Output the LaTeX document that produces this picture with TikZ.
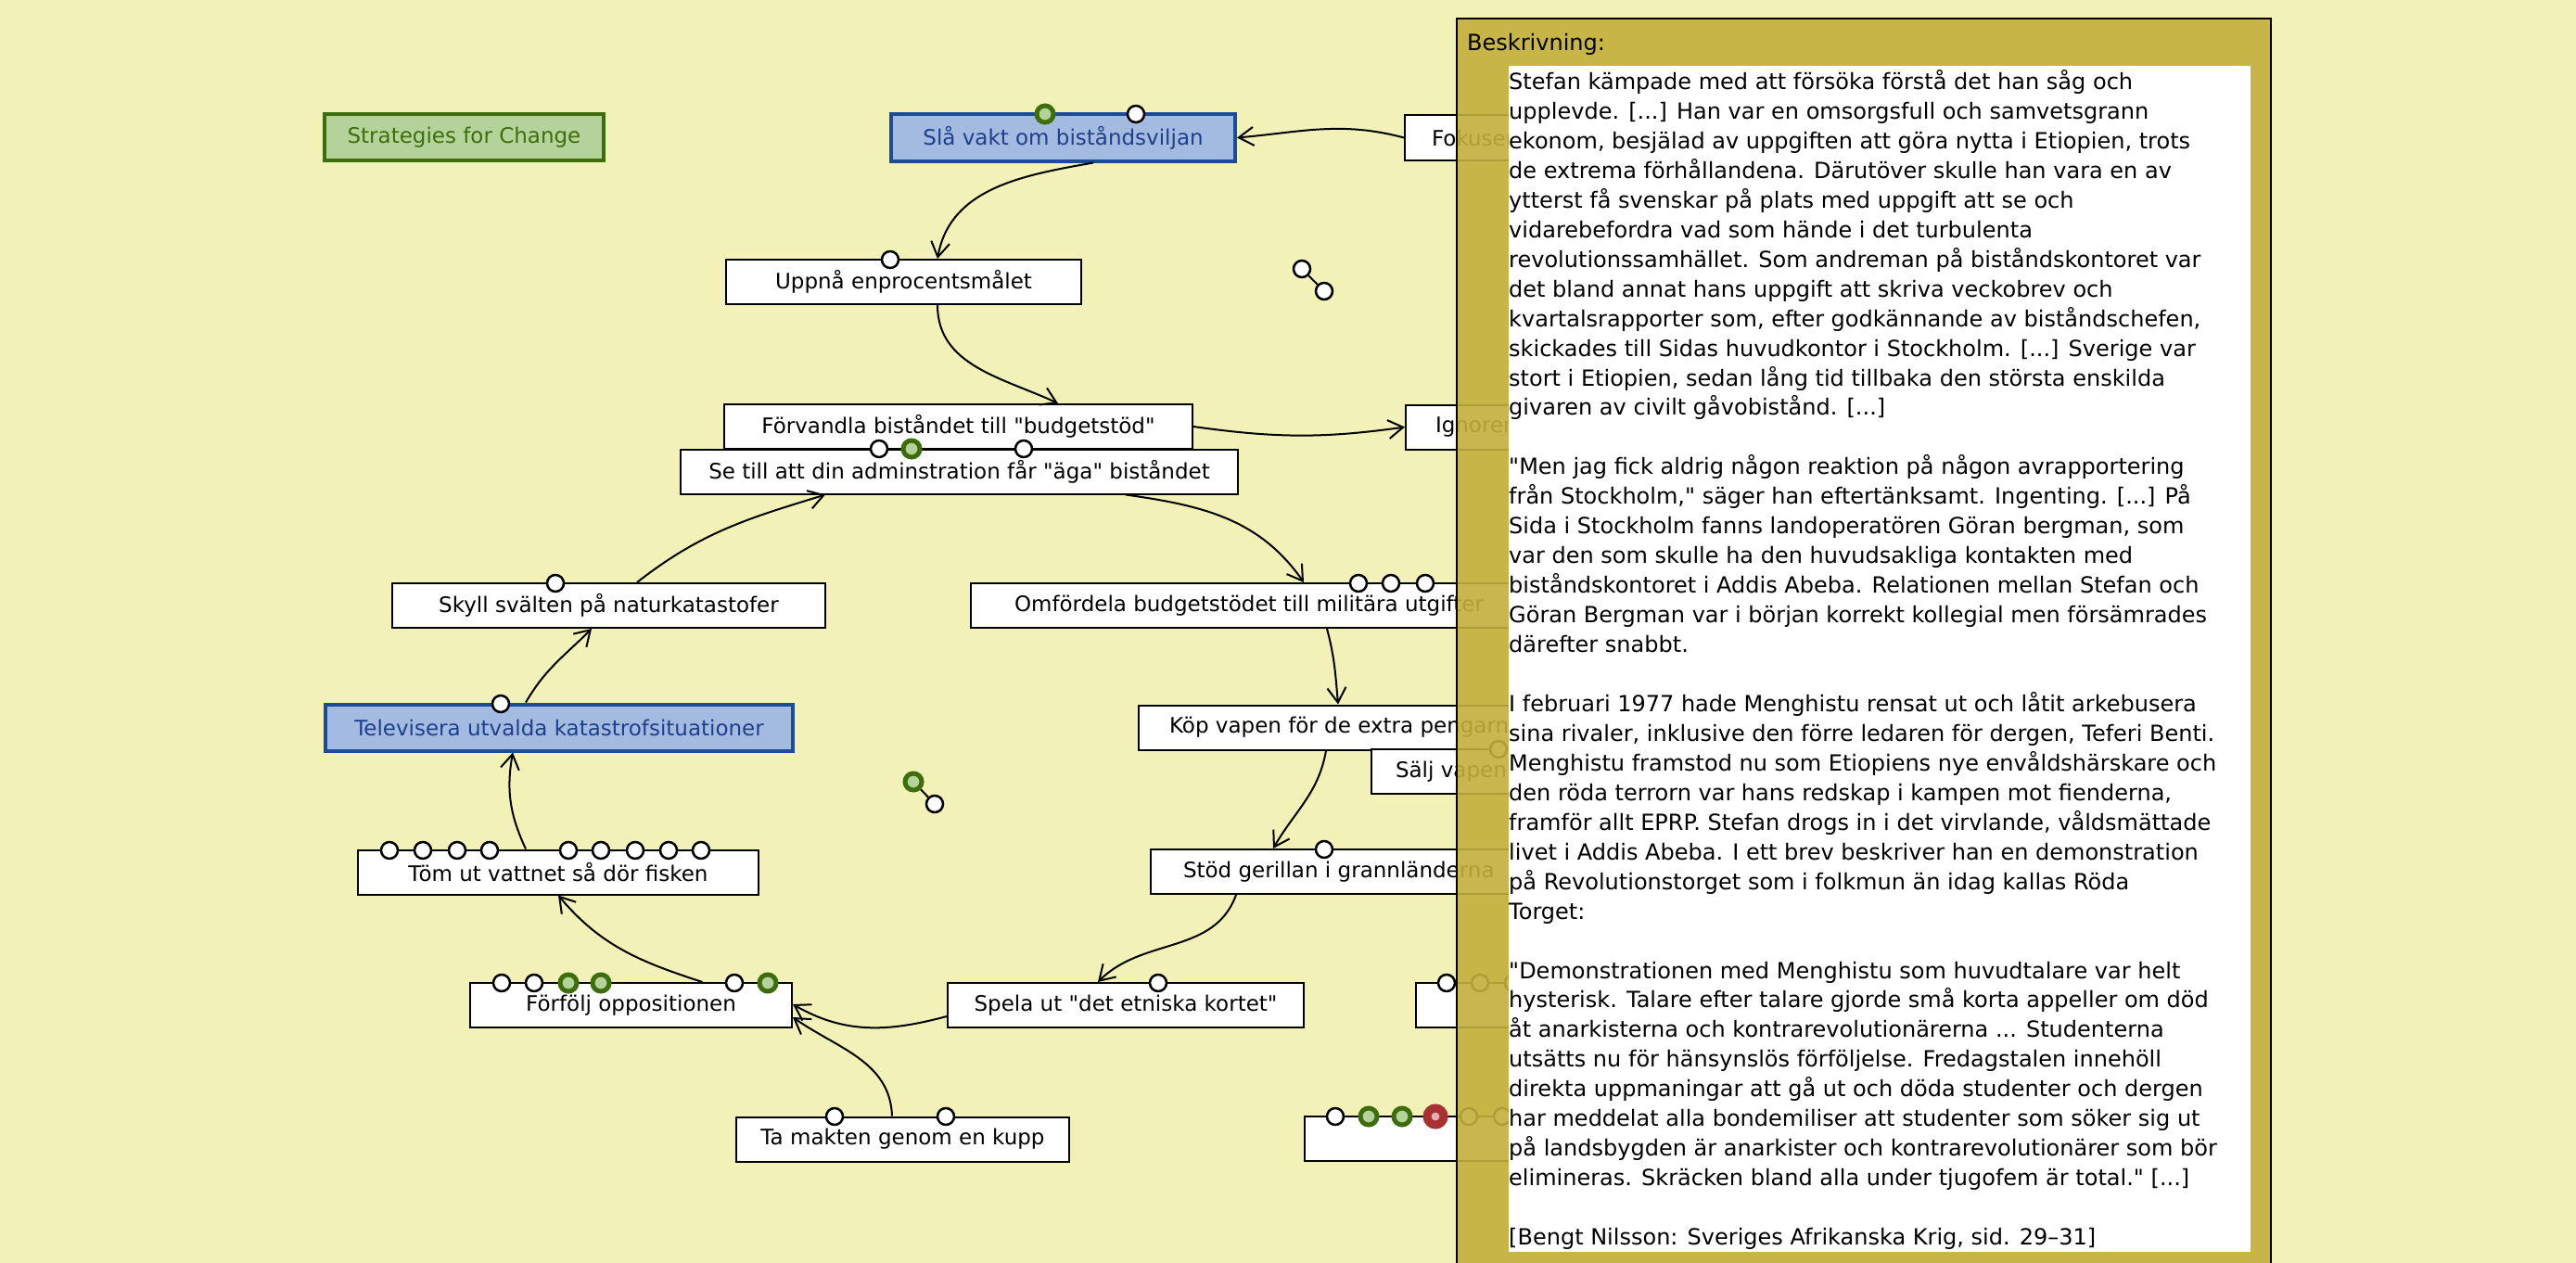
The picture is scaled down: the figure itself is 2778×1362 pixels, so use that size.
\documentclass[tikz,border=0pt]{standalone}
\usepackage{fontspec}
\setmainfont{DejaVu Sans}[Ligatures=TeXOff]
\usepackage{tikz}
\usetikzlibrary{arrows.meta,positioning,calc}
\definecolor{paper}{HTML}{F2F1B7}
\definecolor{notegold}{HTML}{C4AF3C}
\definecolor{goalfill}{HTML}{A3BBE0}
\definecolor{goalline}{HTML}{1C4B97}
\definecolor{goaltext}{HTML}{1F3F8C}
\definecolor{okfill}{HTML}{B4D39B}
\definecolor{okline}{HTML}{3E6E0B}
\definecolor{badline}{HTML}{A83232}
\definecolor{badfill}{HTML}{E4ADB0}
\newcommand{\boxfont}{\fontsize{23}{27}\selectfont}
\newcommand{\notefont}{\fontsize{24}{32}\selectfont}
\newcommand{\utel}{...}

\begin{document}
\begin{tikzpicture}[x=1pt,y=-1pt,
  every node/.style={font=\boxfont},
  box/.style={draw=black,line width=2pt,fill=white,minimum height=48pt,inner ysep=0pt},
  lbox/.style={box,anchor=west,inner xsep=#1},
  goal/.style={box,draw=goalline,fill=goalfill,text=goaltext,line width=4pt,minimum height=50pt},
  titel/.style={box,draw=okline,fill=okfill,text=okline,line width=4pt,minimum height=50pt},
  port/.style={circle,draw=black,fill=white,line width=2.5pt,minimum size=18pt,inner sep=0pt},
  portok/.style={port,draw=okline,fill=okfill,line width=5pt},
  portbad/.style={port,draw=badline,fill=badfill,line width=9pt},
  flow/.style={-{Straight Barb[length=16pt,width=20pt]},line width=2pt},
  link/.style={line width=2pt}]
  \fill[paper] (0,0) rectangle (2778,1362);
  \useasboundingbox (0,0) rectangle (2778,1362);

  \node[titel,minimum width=301pt] (strat) at (500.5,148) {Strategies for Change};
  \node[goal,minimum width=371pt] (vakt) at (1146.5,148.5) {Slå vakt om biståndsviljan};
  \node[lbox=29pt] (fokus) at (1514,148.5) {Fokusera};
  \node[box,minimum width=383pt] (upp) at (974.5,304) {Uppnå enprocentsmålet};
  \node[box,minimum width=505pt] (forv) at (1033.5,460) {Förvandla biståndet till "budgetstöd"};
  \node[box,minimum width=601pt] (setill) at (1034.5,508.5) {Se till att din adminstration får "äga" biståndet};
  \node[lbox=32pt] (ignor) at (1515,460.5) {Ignorera};
  \node[lbox=47pt] (omf) at (1046,653) {Omfördela budgetstödet till militära utgifter};
  \node[lbox=33pt] (kop) at (1227,784.5) {Köp vapen för de extra pengarna};
  \node[lbox=26pt] (salj) at (1478,832) {Sälj vapen};
  \node[lbox=35pt] (stod) at (1240,940) {Stöd gerillan i grannländerna};
  \node[box,minimum width=384pt] (spela) at (1214,1084) {Spela ut "det etniska kortet"};
  \node[box,anchor=west,minimum width=200pt] (skymd1) at (1526,1084) {};
  \node[box,minimum width=347pt] (forf) at (680.5,1084) {Förfölj oppositionen};
  \node[box,minimum width=359pt] (ta) at (973.5,1228.5) {Ta makten genom en kupp};
  \node[box,anchor=west,minimum width=300pt] (skymd2) at (1406,1228) {};
  \node[box,minimum width=432pt] (tom) at (602,940.5) {Töm ut vattnet så dör fisken};
  \node[goal,minimum width=504pt] (telev) at (603,784.5) {Televisera utvalda katastrofsituationer};
  \node[box,minimum width=467pt] (skyll) at (656.5,653) {Skyll svälten på naturkatastofer};

  \foreach \x/\s [count=\i] in {1127/portok,1225/port} \node[\s] (vakt-\i) at (\x,123) {};
  \node[port] (upp-1) at (960,280) {};
  \foreach \x/\s [count=\i] in {948/port,983/portok,1104/port} \node[\s] (setill-\i) at (\x,484) {};
  \foreach \x [count=\i] in {1465,1500,1537} \node[port] (omf-\i) at (\x,629) {};
  \node[port] (salj-1) at (1616,808) {};
  \node[port] (stod-1) at (1428,916) {};
  \node[port] (spela-1) at (1249,1060) {};
  \foreach \x [count=\i] in {1560,1596,1632} \node[port] (skymd1-\i) at (\x,1060) {};
  \foreach \x/\s [count=\i] in {1440/port,1476/portok,1512/portok,1548/portbad,1584/port,1620/port}
    \node[\s] (skymd2-\i) at (\x,1204) {};
  \foreach \x/\s [count=\i] in {541/port,576/port,613/portok,648/portok,792/port,828/portok}
    \node[\s] (forf-\i) at (\x,1060) {};
  \foreach \x [count=\i] in {900,1020} \node[port] (ta-\i) at (\x,1204) {};
  \foreach \x [count=\i] in {420,456,493,528,613,648,685,721,756} \node[port] (tom-\i) at (\x,917) {};
  \node[port] (telev-1) at (540,759) {};
  \node[port] (skyll-1) at (599,629) {};

  \node[port] (los1) at (1404,290) {};
  \node[port] (los2) at (1428,314) {};
  \draw[link] (los1) -- (los2);
  \node[portok] (los3) at (985,843) {};
  \node[port] (los4) at (1008,867) {};
  \draw[link] (los3) -- (los4);

  \draw[flow] (fokus.west) to[out=165,in=5] (vakt.east);
  \draw[flow] ([xshift=32.5pt]vakt.south) to[out=190,in=80] ([xshift=36.5pt]upp.north);
  \draw[flow] ([xshift=36.5pt]upp.south) to[out=-90,in=155] ([xshift=107.5pt]forv.north);
  \draw[flow] (forv.east) to[out=-8,in=188] (ignor.west);
  \draw[flow] ([xshift=179.5pt]setill.south) to[out=-8,in=125] ([xshift=360pt]omf.north west);
  \draw[flow] ([xshift=385pt]omf.south west) to[out=-75,in=95] ([xshift=216pt]kop.north west);
  \draw[flow] ([xshift=203pt]kop.south west) to[out=-100,in=60] ([xshift=133pt]stod.north west);
  \draw[flow] ([xshift=93pt]stod.south west) to[out=-110,in=45] ([xshift=-30pt]spela.north);
  \draw[flow] ([yshift=-12pt]spela.west) to[out=195,in=-30] ([yshift=1pt]forf.east);
  \draw[flow] ([xshift=-11.5pt]ta.north) to[out=92,in=-35] ([yshift=-13pt]forf.east);
  \draw[flow] ([xshift=77pt]forf.north) to[out=162,in=-50] ([xshift=0pt]tom.south);
  \draw[flow] ([xshift=-35pt]tom.north) to[out=115,in=-100] ([xshift=-50pt]telev.south);
  \draw[flow] ([xshift=-36pt]telev.north) to[out=60,in=-135] ([xshift=-18.5pt]skyll.south);
  \draw[flow] ([xshift=30.5pt]skyll.north) to[out=38,in=-163] ([xshift=-144.5pt]setill.south);

  \begin{scope}[every node/.style={font=\notefont,inner sep=0pt,anchor=base west}]
    \draw[fill=notegold,fill opacity=0.9,draw=black,line width=2pt] (1571,20) rectangle (2449,1364);
    \fill[white] (1627,71) rectangle (2427,1350);
    \node (rubrik) at (1582,55) {Beskrivning:};
    \foreach \t [count=\i] in {
      {Stefan kämpade med att försöka förstå det han såg och},
      {upplevde. [\utel] Han var en omsorgsfull och samvetsgrann},
      {ekonom, besjälad av uppgiften att göra nytta i Etiopien, trots},
      {de extrema förhållandena. Därutöver skulle han vara en av},
      {ytterst få svenskar på plats med uppgift att se och},
      {vidarebefordra vad som hände i det turbulenta},
      {revolutionssamhället. Som andreman på biståndskontoret var},
      {det bland annat hans uppgift att skriva veckobrev och},
      {kvartalsrapporter som, efter godkännande av biståndschefen,},
      {skickades till Sidas huvudkontor i Stockholm. [\utel] Sverige var},
      {stort i Etiopien, sedan lång tid tillbaka den största enskilda},
      {givaren av civilt gåvobistånd. [\utel]},
      {},
      {"Men jag fick aldrig någon reaktion på någon avrapportering},
      {från Stockholm," säger han eftertänksamt. Ingenting. [\utel] På},
      {Sida i Stockholm fanns landoperatören Göran bergman, som},
      {var den som skulle ha den huvudsakliga kontakten med},
      {biståndskontoret i Addis Abeba. Relationen mellan Stefan och},
      {Göran Bergman var i början korrekt kollegial men försämrades},
      {därefter snabbt.},
      {},
      {I februari 1977 hade Menghistu rensat ut och låtit arkebusera},
      {sina rivaler, inklusive den förre ledaren för dergen, Teferi Benti.},
      {Menghistu framstod nu som Etiopiens nye envåldshärskare och},
      {den röda terrorn var hans redskap i kampen mot fienderna,},
      {framför allt EPRP. Stefan drogs in i det virvlande, våldsmättade},
      {livet i Addis Abeba. I ett brev beskriver han en demonstration},
      {på Revolutionstorget som i folkmun än idag kallas Röda},
      {Torget:},
      {},
      {"Demonstrationen med Menghistu som huvudtalare var helt},
      {hysterisk. Talare efter talare gjorde små korta appeller om död},
      {åt anarkisterna och kontrarevolutionärerna \utel{} Studenterna},
      {utsätts nu för hänsynslös förföljelse. Fredagstalen innehöll},
      {direkta uppmaningar att gå ut och döda studenter och dergen},
      {har meddelat alla bondemiliser att studenter som söker sig ut},
      {på landsbygden är anarkister och kontrarevolutionärer som bör},
      {elimineras. Skräcken bland alla under tjugofem är total." [\utel]},
      {},
      {[Bengt Nilsson: Sveriges Afrikanska Krig, sid. 29–31]}}
      \node (rad\i) at (1627,{96.5+31.95*(\i-1)}) {\t};
  \end{scope}
\end{tikzpicture}
\end{document}
